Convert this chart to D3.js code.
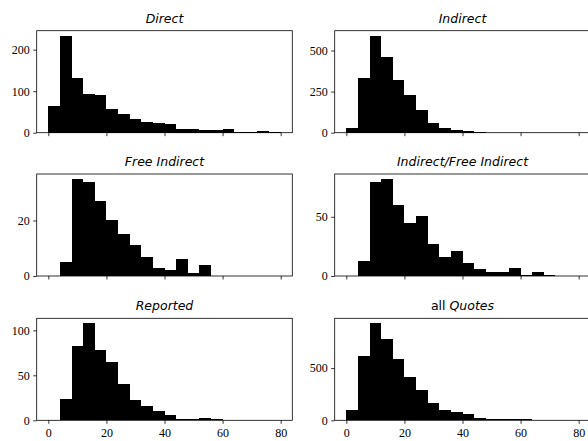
<!DOCTYPE html>
<html>
<head>
<meta charset="utf-8">
<script src="https://cdn.jsdelivr.net/npm/d3@7"></script>
<style>
  body { margin: 0; background: #fff; }
  svg { display: block; }
</style>
</head>
<body>
<div id="chart-area"></div>
<script>
// bin starts (width 4)
var binStarts = [0, 4, 8, 12, 16, 20, 24, 28, 32, 36, 40, 44, 48, 52, 56, 60, 64, 68, 72, 76];
var binWidth = 4;

var direct          = [64, 234, 131, 93, 90, 57, 45, 33, 26, 24, 21, 10, 10, 6, 6, 10, 2, 2, 5, 2];
var indirect        = [30, 335, 591, 458, 323, 228, 137, 62, 28, 18, 10, 3, 1, 1, 0, 0, 0, 0, 0, 0];
var freeIndirect    = [0, 5, 35, 34, 27, 20, 15, 11, 7, 3, 2, 6, 1, 4, 0, 0, 0, 0, 0, 0];
var indFreeIndirect = [0, 13, 79, 82, 60, 45, 51, 27, 16, 21, 11, 6, 3, 3, 7, 1, 3, 1, 0, 0];
var reported        = [0, 24, 83, 108, 78, 65, 40, 23, 16, 10, 6, 1, 1, 3, 1, 0, 0, 0, 0, 0];
var allQuotes       = [95, 617, 930, 778, 588, 418, 294, 161, 95, 76, 57, 26, 16, 17, 14, 11, 5, 3, 5, 2];

var xTicks = [0, 20, 40, 60, 80];

var panels = [
    {title: [['Direct', true]], vals: direct, yTicks: [0, 100, 200]},
    {title: [['Indirect', true]], vals: indirect, yTicks: [0, 250, 500]},
    {title: [['Free Indirect', true]], vals: freeIndirect, yTicks: [0, 20]},
    {title: [['Indirect/Free Indirect', true]], vals: indFreeIndirect, yTicks: [0, 50]},
    {title: [['Reported', true]], vals: reported, yTicks: [0, 50, 100]},
    {title: [['all ', false], ['Quotes', true]], vals: allQuotes, yTicks: [0, 500]}
];

var def = {
    width: 588,
    height: 441,
    colX: [36.7, 334.7],
    rowY: [30.7, 174, 318.3],
    pw: 255.6,
    ph: 102
};

var svg = d3.select('#chart-area').append('svg')
    .attr('width', def.width)
    .attr('height', def.height);

panels.forEach(function(p, i) {
    var col = i % 2, row = Math.floor(i / 2);
    var g = svg.append('g')
        .attr('transform', 'translate(' + def.colX[col] + ',' + def.rowY[row] + ')');

    var x = d3.scaleLinear().domain([-4, 84]).range([0, def.pw]);
    var y = d3.scaleLinear().domain([0, d3.max(p.vals) * 1.05]).range([def.ph, 0]);

    // bars
    g.selectAll('rect.bar')
        .data(p.vals)
        .enter().append('rect')
        .attr('class', 'bar')
        .attr('x', function(d, k) { return x(binStarts[k]); })
        .attr('width', function(d, k) { return x(binStarts[k] + binWidth) - x(binStarts[k]); })
        .attr('y', function(d) { return y(d); })
        .attr('height', function(d) { return def.ph - y(d); })
        .attr('fill', '#000')
        .attr('shape-rendering', 'crispEdges');

    // axes
    var xAxis = d3.axisBottom(x).tickValues(xTicks).tickSize(3.5).tickPadding(3.5)
        .tickFormat(row === 2 ? d3.format('d') : '');
    var yAxis = d3.axisLeft(y).tickValues(p.yTicks).tickSize(3.5).tickPadding(3.5)
        .tickFormat(d3.format('d'));

    var xa = g.append('g').attr('transform', 'translate(0,' + def.ph + ')').call(xAxis);
    var ya = g.append('g').call(yAxis);
    [xa, ya].forEach(function(a) {
        a.attr('font-family', null).attr('font-size', null);
        a.select('.domain').remove();
        a.selectAll('.tick line').attr('stroke', '#000').attr('stroke-width', 0.8);
        a.selectAll('.tick text')
            .attr('fill', '#000')
            .style('font-family', "'Liberation Serif', 'Times New Roman', 'DejaVu Serif', serif")
            .style('font-size', '12px');
    });
    xa.selectAll('.tick text').attr('dy', '0.85em');

    // frame
    g.append('rect')
        .attr('width', def.pw).attr('height', def.ph)
        .attr('fill', 'none')
        .attr('stroke', '#000')
        .attr('stroke-width', 0.8);

    // title
    var t = g.append('text')
        .style('font-family', "'DejaVu Sans', sans-serif")
        .style('font-size', '12.5px')
        .attr('x', def.pw / 2)
        .attr('y', -8)
        .attr('text-anchor', 'middle');
    p.title.forEach(function(seg) {
        t.append('tspan')
            .attr('font-style', seg[1] ? 'italic' : 'normal')
            .text(seg[0]);
    });
});
</script>
</body>
</html>
